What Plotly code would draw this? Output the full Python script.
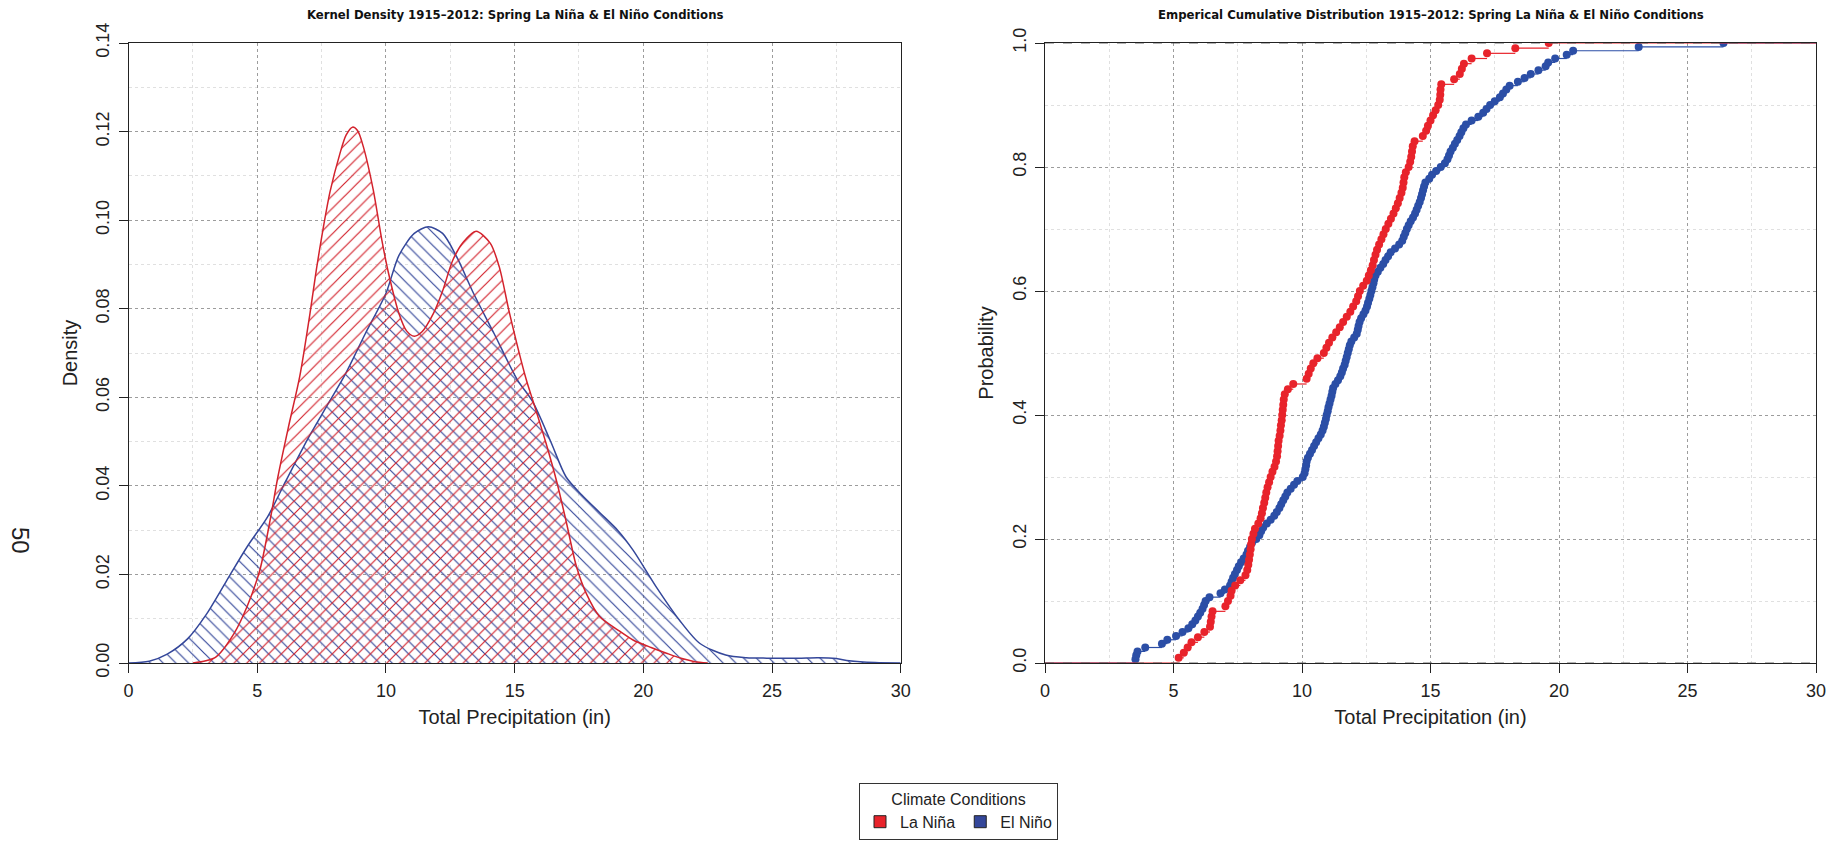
import plotly.graph_objects as go

# ---------------- data ----------------
# Kernel density curves (x in inches, density)
nina_dens_x = [2.5, 3.0, 3.4, 4.1, 4.6, 5.1, 5.5, 5.8, 6.2, 6.65, 7.05, 7.3, 7.57, 7.83, 8.2, 8.45, 8.7, 8.9,
               9.12, 9.5, 9.84, 10.1, 10.5, 10.8, 11.1, 11.4, 11.85, 12.2, 12.6, 13.0, 13.5, 14.05, 14.4, 14.8,
               15.45, 15.7, 16.2, 16.65, 17.0, 17.4, 17.8, 18.3, 19.0, 19.6, 20.3, 20.9, 21.5, 22.0, 22.5]
nina_dens_y = [0.0, 0.0005, 0.0014, 0.0067, 0.0127, 0.021, 0.0323, 0.042, 0.053, 0.0647, 0.079, 0.089, 0.0985,
               0.1065, 0.1148, 0.1192, 0.121, 0.1202, 0.1166, 0.107, 0.0955, 0.088, 0.079, 0.075, 0.0738, 0.0748,
               0.079, 0.084, 0.091, 0.095, 0.0975, 0.0948, 0.0895, 0.079, 0.064, 0.0594, 0.050, 0.0406, 0.032,
               0.0218, 0.0155, 0.0105, 0.0075, 0.0052, 0.0035, 0.0022, 0.001, 0.0003, 0.0]

nino_dens_x = [0.0, 0.8, 1.5, 2.3, 3.0, 3.8, 4.6, 5.4, 6.1, 7.0, 7.7, 8.4, 9.2, 10.0, 10.5, 11.1, 11.65, 12.2,
               12.75, 13.4, 14.2, 15.1, 15.7, 16.4, 17.0, 17.6, 18.3, 19.0, 19.6, 20.5, 21.4, 22.2, 23.2, 24.0,
               24.8, 26.0, 26.8, 27.5, 28.0, 29.0, 30.0]
nino_dens_y = [0.0, 0.0004, 0.002, 0.0055, 0.0108, 0.0185, 0.0262, 0.033, 0.041, 0.051, 0.058, 0.065, 0.0744,
               0.0835, 0.092, 0.097, 0.0985, 0.097, 0.0917, 0.0835, 0.0744, 0.064, 0.059, 0.050, 0.042, 0.038,
               0.034, 0.030, 0.0255, 0.0172, 0.0097, 0.0044, 0.0018, 0.0012, 0.0011, 0.0011, 0.0012, 0.001,
               0.0005, 0.0001, 0.0]

# Sorted precipitation values behind the empirical CDFs (inches)
nina_values = [5.2, 5.4, 5.55, 5.7, 5.95, 6.2, 6.42, 6.45, 6.48, 6.52,
               7.02, 7.12, 7.22, 7.26, 7.4, 7.6, 7.8, 7.87, 7.91, 7.94,
               7.97, 8.0, 8.02, 8.05, 8.11, 8.17, 8.3, 8.39, 8.44, 8.48,
               8.53, 8.57, 8.61, 8.66, 8.72, 8.78, 8.85, 8.93, 8.99, 9.03,
               9.05, 9.07, 9.09, 9.13, 9.16, 9.18, 9.21, 9.23, 9.25, 9.27,
               9.29, 9.33, 9.45, 9.66, 10.18, 10.26, 10.34, 10.44, 10.6, 10.85,
               10.95, 11.05, 11.18, 11.33, 11.47, 11.6, 11.74, 11.88, 11.99, 12.11,
               12.18, 12.25, 12.38, 12.52, 12.6, 12.68, 12.75, 12.8, 12.86, 12.92,
               13.0, 13.09, 13.17, 13.26, 13.36, 13.46, 13.56, 13.65, 13.73, 13.8,
               13.87, 13.92, 13.95, 13.98, 14.04, 14.15, 14.21, 14.25, 14.28, 14.31,
               14.38, 14.7, 14.83, 14.9, 15.0, 15.1, 15.2, 15.3, 15.36, 15.38,
               15.39, 15.42, 15.92, 16.14, 16.22, 16.3, 16.6, 17.2, 18.3, 19.6]

nino_values = [3.52, 3.55, 3.6, 3.9, 4.55, 4.76, 5.1, 5.35, 5.58, 5.73,
               5.85, 5.95, 6.04, 6.13, 6.19, 6.25, 6.4, 6.83, 7.0, 7.2,
               7.26, 7.32, 7.39, 7.47, 7.54, 7.63, 7.73, 7.84, 7.9, 7.98,
               8.05, 8.22, 8.34, 8.41, 8.49, 8.63, 8.78, 8.92, 9.02, 9.12,
               9.19, 9.27, 9.35, 9.43, 9.56, 9.69, 9.82, 10.03, 10.1, 10.13,
               10.16, 10.18, 10.23, 10.31, 10.39, 10.47, 10.55, 10.64, 10.73, 10.8,
               10.85, 10.89, 10.93, 10.96, 11.0, 11.03, 11.07, 11.11, 11.15, 11.18,
               11.21, 11.3, 11.4, 11.49, 11.55, 11.6, 11.66, 11.7, 11.74, 11.78,
               11.82, 11.86, 11.92, 12.03, 12.13, 12.17, 12.2, 12.24, 12.3, 12.39,
               12.47, 12.53, 12.57, 12.62, 12.66, 12.7, 12.74, 12.78, 12.81, 12.86,
               12.95, 13.05, 13.16, 13.25, 13.35, 13.45, 13.62, 13.78, 13.9, 13.96,
               14.02, 14.08, 14.15, 14.23, 14.32, 14.4, 14.46, 14.52, 14.58, 14.63,
               14.67, 14.71, 14.75, 14.8, 14.95, 15.06, 15.22, 15.4, 15.56, 15.66,
               15.72, 15.78, 15.87, 15.95, 16.04, 16.13, 16.2, 16.28, 16.38, 16.6,
               16.86, 17.05, 17.18, 17.32, 17.5, 17.7, 17.82, 17.95, 18.08, 18.4,
               18.66, 18.9, 19.2, 19.48, 19.58, 19.85, 20.3, 20.55, 23.1, 26.4]

series_names = ["La Niña", "El Niño"]
x_range = [0, 30]
density_range = [0, 0.14]
prob_range = [0, 1]

# ---------------- styles ----------------
RED_LINE = "#d3222c"
BLUE_LINE = "#34479a"
RED_PT = "#e8232b"
BLUE_PT = "#2b4ea6"
FONT = "Liberation Sans, Arial, Helvetica, sans-serif"
TITLE_FONT = "Liberation Sans Narrow, Arial Narrow, DejaVu Sans Condensed, sans-serif"

W, H = 1843, 841
L1, R1 = 128.6, 900.7
L2, R2 = 1045.0, 1816.0
TOP, BOT = 43.0, 663.0


def ecdf_steps(vals, xmin, xmax):
    s = sorted(vals)
    n = len(s)
    xs, ys = [xmin, s[0], None], [0, 0, None]
    for i in range(n):
        x_end = s[i + 1] if i + 1 < n else xmax
        p = (i + 1) / n
        xs += [s[i], x_end, None]
        ys += [p, p, None]
    pts_y = [(i + 1) / n for i in range(n)]
    return xs, ys, s, pts_y


fig = go.Figure()

# density plot
fig.add_trace(go.Scatter(
    x=nino_dens_x, y=nino_dens_y, mode="lines", xaxis="x", yaxis="y",
    line=dict(color=BLUE_LINE, width=1.5, shape="spline", smoothing=0.8),
    fill="tozeroy", fillcolor="rgba(0,0,0,0)",
    fillpattern=dict(shape="\\", fgcolor=BLUE_LINE, bgcolor="rgba(0,0,0,0)",
                     size=9, solidity=0.13, fgopacity=1),
    showlegend=False, hoverinfo="skip"))
fig.add_trace(go.Scatter(
    x=nina_dens_x, y=nina_dens_y, mode="lines", xaxis="x", yaxis="y",
    line=dict(color=RED_LINE, width=1.5, shape="spline", smoothing=0.8),
    fill="tozeroy", fillcolor="rgba(0,0,0,0)",
    fillpattern=dict(shape="/", fgcolor=RED_LINE, bgcolor="rgba(0,0,0,0)",
                     size=9, solidity=0.13, fgopacity=1),
    showlegend=False, hoverinfo="skip"))

# ECDF plot
for vals, col in [(nino_values, BLUE_PT), (nina_values, RED_PT)]:
    sx, sy, px, py = ecdf_steps(vals, x_range[0], x_range[1])
    fig.add_trace(go.Scatter(x=sx, y=sy, mode="lines", xaxis="x2", yaxis="y2",
                             line=dict(color=col, width=1.2), showlegend=False,
                             hoverinfo="skip", connectgaps=False))
    fig.add_trace(go.Scatter(x=px, y=py, mode="markers", xaxis="x2", yaxis="y2",
                             marker=dict(color=col, size=8, line=dict(width=0)),
                             showlegend=False))

# legend entries
for name, col in zip(series_names, [RED_PT, BLUE_LINE]):
    fig.add_trace(go.Scatter(x=[None], y=[None], mode="markers", name=name,
                             xaxis="x2", yaxis="y2",
                             marker=dict(symbol="square", size=12, color=col,
                                         line=dict(color="#222", width=1))))

grid_major = "#9c9c9c"
grid_minor = "#e0e0e0"
TICK_SIZE = 18
TITLE_SIZE = 20


def xax(domain, anchor):
    return dict(domain=domain, anchor=anchor, range=x_range, dtick=5, tick0=0,
                showline=True, mirror=True, linecolor="#222", linewidth=1.2,
                ticks="outside", ticklen=9, tickcolor="#222", tickwidth=1,
                ticklabelstandoff=2,
                showgrid=True, gridcolor=grid_major, griddash="dot", gridwidth=1,
                minor=dict(dtick=2.5, tick0=0, showgrid=True, gridcolor=grid_minor,
                           griddash="dot", ticks=""),
                zeroline=False, tickfont=dict(size=TICK_SIZE, color="#222", family=FONT),
                title=dict(text="Total Precipitation (in)", standoff=10,
                           font=dict(size=TITLE_SIZE, color="#222", family=FONT)),
                automargin=False, fixedrange=True)


def yax(domain, anchor, rng, dtick, minor, fmt, title):
    return dict(domain=domain, anchor=anchor, range=rng, dtick=dtick, tick0=0,
                tickformat=fmt, tickangle=-90,
                showline=True, mirror=True, linecolor="#222", linewidth=1.2,
                ticks="outside", ticklen=9, tickcolor="#222", tickwidth=1,
                ticklabelstandoff=2,
                showgrid=True, gridcolor=grid_major, griddash="dot", gridwidth=1,
                minor=dict(dtick=minor, tick0=0, showgrid=True, gridcolor=grid_minor,
                           griddash="dot", ticks=""),
                zeroline=False, tickfont=dict(size=TICK_SIZE, color="#222", family=FONT),
                title=dict(text=title, standoff=10,
                           font=dict(size=TITLE_SIZE, color="#222", family=FONT)),
                automargin=False, fixedrange=True)


ydom = [1 - BOT / H, 1 - TOP / H]
fig.update_layout(
    width=W, height=H,
    margin=dict(l=0, r=0, t=0, b=0),
    paper_bgcolor="white", plot_bgcolor="white",
    font=dict(family=FONT, color="#222"),
    xaxis=xax([L1 / W, R1 / W], "y"),
    yaxis=yax(ydom, "x", density_range, 0.02, 0.01, ".2f", "Density"),
    xaxis2=xax([L2 / W, R2 / W], "y2"),
    yaxis2=yax(ydom, "x2", prob_range, 0.2, 0.1, ".1f", "Probability"),
    showlegend=True,
    legend=dict(orientation="h", x=(860 + 1057) / 2 / W, xanchor="center",
                y=1 - 783 / H, yanchor="top",
                bordercolor="#333", borderwidth=1, bgcolor="white",
                font=dict(size=16, family=FONT, color="#222"),
                title=dict(text="Climate Conditions", side="top center",
                           font=dict(size=16, family=FONT, color="#222")),
                itemclick=False, itemdoubleclick=False),
    shapes=[
        dict(type="line", xref="x2", yref="y2", x0=x_range[0], x1=x_range[1], y0=0, y1=0,
             line=dict(color="#666", width=1, dash="dash")),
        dict(type="line", xref="x2", yref="y2", x0=x_range[0], x1=x_range[1], y0=1, y1=1,
             line=dict(color="#666", width=1, dash="dash")),
    ],
    annotations=[
        dict(text="<b>Kernel Density 1915–2012: Spring La Niña & El Niño Conditions</b>",
             xref="paper", yref="paper", x=(L1 + R1) / 2 / W, y=1 - 15 / H,
             xanchor="center", yanchor="middle", showarrow=False,
             font=dict(size=13, family=TITLE_FONT, color="#111")),
        dict(text="<b>Emperical Cumulative Distribution 1915–2012: Spring La Niña & El Niño Conditions</b>",
             xref="paper", yref="paper", x=(L2 + R2) / 2 / W, y=1 - 15 / H,
             xanchor="center", yanchor="middle", showarrow=False,
             font=dict(size=13, family=TITLE_FONT, color="#111")),
        dict(text="50", xref="paper", yref="paper", x=21 / W, y=1 - 540 / H,
             xanchor="center", yanchor="middle", showarrow=False, textangle=90,
             font=dict(size=24, family=FONT, color="#222")),
    ],
)

fig.write_html("out.html")
